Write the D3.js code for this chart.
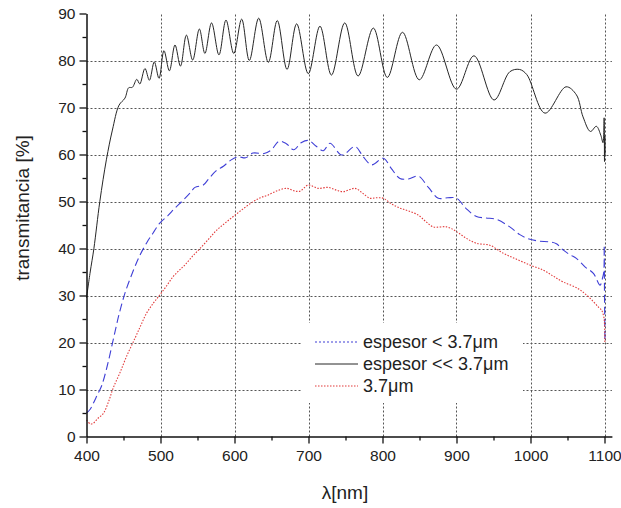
<!DOCTYPE html>
<html><head><meta charset="utf-8">
<script src="https://cdn.jsdelivr.net/npm/d3@7"></script>
<style>body{margin:0;background:#fff}text{font-family:"Liberation Sans",Arial,sans-serif;fill:#222}</style>
</head><body><svg id="c" width="621" height="508"></svg>
<script>
// wavelength (nm) and transmittance (%)
const blackX = [400,405,410,418,427,435,444,452,457,462,468,472,479,485,491.6,498,504.7,512,519.6,527,535,543.5,552.5,560,569,579,588.5,599,609.7,620,632.7,645.7,657.8,671,684,699.7,715.5,731,749,767,787.6,806.5,827,849.7,873,900,923.6,950.7,972,985,995,1019.6,1048,1062,1071,1081,1089,1095,1098,1099.5,1100,1100.4,1100.8];
const blackY = [29.5,35,40,50,59,65.2,70.5,72,74.2,74.3,76,75,78.3,75.8,79.7,76.2,82.1,77.8,83.3,78.8,85.4,80.1,86.7,81.5,88,81.2,88.6,81.5,88.8,80,89,79.6,88.5,78.1,87.8,77.2,87.3,76.9,88,76.7,86.9,76.4,86,75.9,83.3,73.9,81,71.6,77.6,78.1,77,68.8,74.4,72.7,68,64.9,66,64.1,62.5,67.8,58.5,64,60];
const blueX = [400,405,409,415,420.5,428,436,444,452,463,472,482,490,499,510,519.6,530.8,540,546.6,557.8,565,575,585,595,605,615,625,640,650,660,670,680,690,700,710,720,729,745,763,774,785.4,801,812,823.6,835,848.4,862,875.4,888,900,913,927,940,954,972,985,995,1010,1026,1035,1044,1053,1062,1073.6,1085,1094,1097,1099,1099.6,1100,1100.3,1100.6];
const blueY = [5,5.8,7,9,10.8,15,20.5,26,30.5,35.2,38.5,41.4,43.3,45.4,47,48.6,50.3,51.8,53,53.5,54.8,56.5,57.5,58.8,59.5,59.3,60.3,60.2,61,62.8,62.3,61,62.5,63,61.8,60.8,62.4,59.9,61.7,59.5,57.8,59.2,57,54.9,54.8,55.4,53,50.7,50.8,50.7,48.5,46.8,46.5,46.2,44.6,43,42.2,41.6,41.4,41,39.7,38.7,37.9,36.1,34.7,32.2,33.5,35,40.7,30,25,20];
const redX = [400,405,409,415,422.7,430,436,445,454,465.5,473,481,490,499,508,517,525,533,543,553.4,565,576,588,600.7,613,625.4,635,645.7,658,670.5,680,688.5,699.7,713,726.8,738,747,763,773,783,792,801,812,823.6,835,848.4,858,868.6,886.8,900,913,927,945,963,980,999,1017,1030,1044,1064,1075,1085,1092,1096,1099,1100,1100.5];
const redY = [3.5,2.7,2.8,3.8,4.9,7.5,10.3,13.5,17,20.9,23.5,26.2,28.3,30.1,32,34,35.3,36.5,38.3,40,42,43.9,45.5,47.1,48.6,50,50.8,51.4,52.3,52.8,52.3,52.2,53.5,52.8,53,52.4,52.1,52.8,51.8,50.7,50.8,50.7,49.5,48.6,48,47.1,45.8,44.6,44.6,43.6,42.2,41.1,40.7,39,37.8,36.5,35.4,34.2,32.9,31.5,30.2,28.7,27.5,26.9,25.5,24,20];
const xMajor = [400,500,600,700,800,900,1000,1100];
const xMinor = [450,550,650,750,850,950,1050];
const yMajor = [0,10,20,30,40,50,60,70,80,90];
const yMinor = [5,15,25,35,45,55,65,75,85];
const legendLabels = ["espesor < 3.7\u03bcm","espesor << 3.7\u03bcm","3.7\u03bcm"];
const xTitle = "\u03bb[nm]";
const yTitle = "transmitancia [%]";

const svg = d3.select("#c");
const x = d3.scaleLinear().domain([400,1110]).range([86.5,611.9]);
const y = d3.scaleLinear().domain([0,90]).range([436.5,13.5]);

// grid
const g = svg.append("g").attr("stroke","#555").attr("stroke-width",1).attr("stroke-dasharray","2,2");
g.selectAll("line.h").data(yMajor.filter(v=>v>0&&v<90)).join("line")
  .attr("x1",x(400)).attr("x2",x(1110)).attr("y1",d=>Math.round(y(d))+0.5).attr("y2",d=>Math.round(y(d))+0.5);
g.selectAll("line.v").data(xMajor.filter(v=>v>400)).join("line")
  .attr("y1",y(0)).attr("y2",y(90)+1).attr("x1",d=>Math.round(x(d))+0.5).attr("x2",d=>Math.round(x(d))+0.5);

// legend background masks grid
svg.append("rect").attr("x",302).attr("y",323).attr("width",221).attr("height",80).attr("fill","#fff");

// series
const line = d3.line().x(d=>x(d[0])).y(d=>y(d[1])).curve(d3.curveCatmullRom.alpha(0.5));
const series = [
  {xs:blueX, ys:blueY, color:"#3f3fd6", dash:"8,4", w:1.1},
  {xs:blackX, ys:blackY, color:"#262626", dash:null, w:1},
  {xs:redX, ys:redY, color:"#e23b3b", dash:"1.5,1.5", w:1.1}
];
series.forEach(s=>{
  svg.append("path").datum(s.xs.map((v,i)=>[v,s.ys[i]])).attr("d",line)
    .attr("fill","none").attr("stroke",s.color).attr("stroke-width",s.w)
    .attr("stroke-dasharray",s.dash);
});

// axes
const ax = svg.append("g").attr("transform",`translate(0,${y(0)})`)
  .call(d3.axisBottom(x).tickValues(xMajor).tickFormat(d3.format("d")).tickSize(7).tickSizeOuter(0).tickPadding(6));
svg.append("g").attr("transform",`translate(0,${y(0)})`)
  .call(d3.axisBottom(x).tickValues(xMinor).tickSize(4).tickFormat("").tickSizeOuter(0)).select(".domain").remove();
const ay = svg.append("g").attr("transform",`translate(${x(400)},0)`)
  .call(d3.axisLeft(y).tickValues(yMajor).tickSize(7).tickSizeOuter(0).tickPadding(4));
svg.append("g").attr("transform",`translate(${x(400)},0)`)
  .call(d3.axisLeft(y).tickValues(yMinor).tickSize(4).tickFormat("")).select(".domain").remove();
svg.selectAll(".domain").attr("stroke","#111").attr("stroke-width",1.5);
svg.selectAll(".tick line").attr("stroke","#111").attr("stroke-width",1.3);
svg.selectAll(".tick text").attr("font-size",15.5).attr("font-family","Liberation Sans, Arial, sans-serif").attr("fill","#222");

// titles
svg.append("text").attr("x",345).attr("y",499).attr("text-anchor","middle").attr("font-size",19).text(xTitle);
svg.append("text").attr("transform","translate(29,208) rotate(-90)").attr("text-anchor","middle").attr("font-size",19).text(yTitle);

// legend
const lg = svg.append("g");
series.forEach((s,i)=>{
  const yy = 342 + i*22;
  lg.append("line").attr("x1",315).attr("x2",358).attr("y1",yy).attr("y2",yy)
    .attr("stroke",s.color).attr("stroke-width",s.w).attr("stroke-dasharray", i===0?"2,2":s.dash);
  lg.append("text").attr("x",363).attr("y",yy+6).attr("font-size",18).text(legendLabels[i]);
});
</script></body></html>
